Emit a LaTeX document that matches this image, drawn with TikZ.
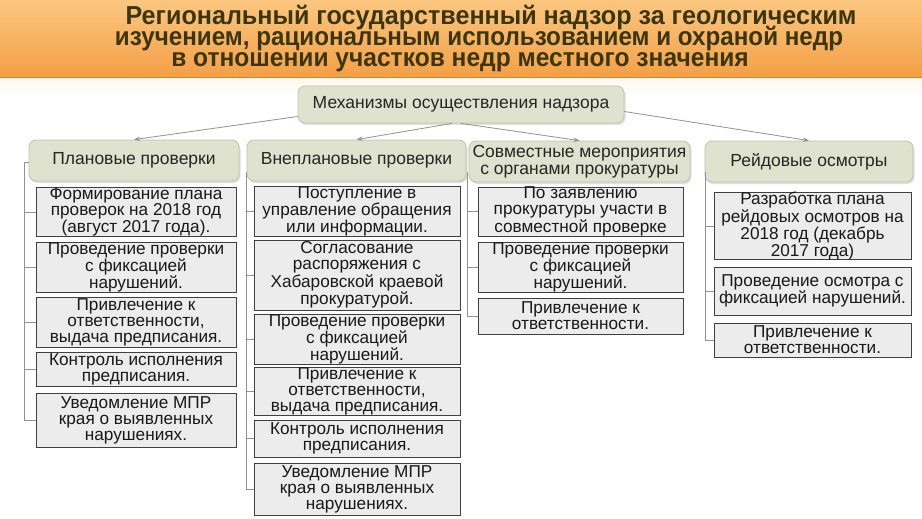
\documentclass[tikz,border=0pt]{standalone}
\usepackage{fontspec}
\setmainfont{Liberation Sans}
\usetikzlibrary{shadows,arrows.meta,calc}
\definecolor{bannerTop}{RGB}{251,198,128}
\definecolor{bannerBot}{RGB}{244,160,70}
\definecolor{titleText}{RGB}{60,54,14}
\definecolor{mechFill}{RGB}{222,226,206}
\definecolor{mechDraw}{RGB}{190,196,170}
\definecolor{boxFill}{RGB}{236,236,236}
\definecolor{boxDraw}{RGB}{64,64,64}
\definecolor{connGray}{RGB}{145,145,145}
\begin{document}
\begin{tikzpicture}[x=1pt,y=-1pt,
  mech/.style={rounded corners=7pt, fill=mechFill, draw=mechDraw, line width=0.8pt,
    drop shadow={opacity=0.25,shadow xshift=1.5pt,shadow yshift=-2pt},
    inner sep=0pt, align=center, text=black!85, font=\fontsize{17.5}{17}\selectfont},
  item/.style={fill=boxFill, draw=boxDraw, line width=0.8pt, inner sep=0pt,
    align=center, text=black!90, font=\fontsize{17.2}{16}\selectfont},
  conn/.style={draw=connGray, line width=0.8pt},
  arr/.style={conn, -{Stealth[length=6pt,width=4.5pt]}},
  ttl/.style={anchor=base, text=titleText, font=\fontsize{26}{21}\selectfont\bfseries, inner sep=0pt}
]
\useasboundingbox (0,0) rectangle (922,519);
\fill[white] (0,0) rectangle (922,519);
% banner
\shade[top color=white!90!bannerBot, bottom color=white] (0,77) rectangle (922,95);
\shade[top color=bannerTop, bottom color=bannerBot] (0,0) rectangle (922,77);
\draw[bannerBot!85!black, line width=0.5pt] (0,77) -- (922,77);
\node[ttl] (t1) at (491,25) {\scalebox{0.966}[1]{Региональный государственный надзор за геологическим}};
\node[ttl] (t2) at (479,46) {\scalebox{0.931}[1]{изучением, рациональным использованием и охраной недр}};
\node[ttl] (t3) at (460,67) {\scalebox{0.945}[1]{в отношении участков недр местного значения}};

% mechanism and categories
\node[mech, minimum width=326pt, minimum height=37pt] (top) at (461,104.5) {Механизмы осуществления надзора};
\node[mech, minimum width=210pt, minimum height=41pt] (plan) at (134,160.5) {Плановые проверки};
\node[mech, minimum width=219pt, minimum height=41pt] (vnep) at (356.5,160.5) {Внеплановые проверки};
\node[mech, minimum width=221pt, minimum height=41pt] (sovm) at (579.5,161.5) {Совместные мероприятия\\с органами прокуратуры};
\node[mech, minimum width=208pt, minimum height=41pt] (reid) at (809,161.5) {Рейдовые осмотры};

\draw[arr] ([yshift=-12pt]top.west) -- (plan.north);
\draw[arr] ([xshift=-9pt]top.south) -- (vnep.north);
\draw[arr] (top.south) -- (sovm.north);
\draw[arr] ([yshift=-7pt]top.east) -- (reid.north);

% column 1
\node[item, minimum width=200pt, minimum height=48pt] (b11) at (136,212) {Формирование плана\\проверок на 2018 год\\(август 2017 года).};
\node[item, minimum width=200pt, minimum height=49pt] (b12) at (136,267.5) {Проведение проверки\\с фиксацией\\нарушений.};
\node[item, minimum width=200pt, minimum height=50pt] (b13) at (136,322) {Привлечение к\\ответственности,\\выдача предписания.};
\node[item, minimum width=200pt, minimum height=34pt] (b14) at (136,369) {Контроль исполнения\\предписания.};
\node[item, minimum width=200pt, minimum height=54pt] (b15) at (136,420) {Уведомление МПР\\края о выявленных\\нарушениях.};

% column 2
\node[item, minimum width=206pt, minimum height=47pt] (b21) at (357,211.5) {Поступление в\\управление обращения\\или информации.};
\node[item, minimum width=206pt, minimum height=70pt] (b22) at (357,275) {Согласование\\распоряжения с\\Хабаровской краевой\\прокуратурой.};
\node[item, minimum width=206pt, minimum height=49pt] (b23) at (357,339.5) {Проведение проверки\\с фиксацией\\нарушений.};
\node[item, minimum width=206pt, minimum height=48pt] (b24) at (357,391) {Привлечение к\\ответственности,\\выдача предписания.};
\node[item, minimum width=206pt, minimum height=37pt] (b25) at (357,438.5) {Контроль исполнения\\предписания.};
\node[item, minimum width=206pt, minimum height=52pt] (b26) at (357,489) {Уведомление МПР\\края о выявленных\\нарушениях.};

% column 3
\node[item, minimum width=205pt, minimum height=49pt] (b31) at (580.5,211.5) {По заявлению\\прокуратуры участи в\\совместной проверке};
\node[item, minimum width=205pt, minimum height=49pt] (b32) at (580.5,267.5) {Проведение проверки\\с фиксацией\\нарушений.};
\node[item, minimum width=205pt, minimum height=36pt] (b33) at (580.5,316) {Привлечение к\\ответственности.};

% column 4
\node[item, minimum width=197pt, minimum height=66pt] (b41) at (812.5,226) {Разработка плана\\рейдовых осмотров на\\2018 год (декабрь\\2017 года)};
\node[item, minimum width=197pt, minimum height=48pt] (b42) at (812.5,291) {Проведение осмотра с\\фиксацией нарушений.};
\node[item, minimum width=197pt, minimum height=34pt] (b43) at (812.5,340) {Привлечение к\\ответственности.};

% brackets
\coordinate (v1) at (24,162);
\coordinate (v2) at (246.5,172);
\coordinate (v3) at (467,172);
\coordinate (v4) at (705,172);
\draw[conn] (plan.west |- v1) -- (v1) |- (b15.west);
\foreach \k in {1,2,3,4} \draw[conn] (v1 |- b1\k.west) -- (b1\k.west);
\draw[conn] (v2) |- (b26.west);
\foreach \k in {1,2,3,4,5} \draw[conn] (v2 |- b2\k.west) -- (b2\k.west);
\draw[conn] (v3) |- (b33.west);
\foreach \k in {1,2} \draw[conn] (v3 |- b3\k.west) -- (b3\k.west);
\draw[conn] (v4) |- (b43.west);
\foreach \k in {1,2} \draw[conn] (v4 |- b4\k.west) -- (b4\k.west);
\end{tikzpicture}
\end{document}
